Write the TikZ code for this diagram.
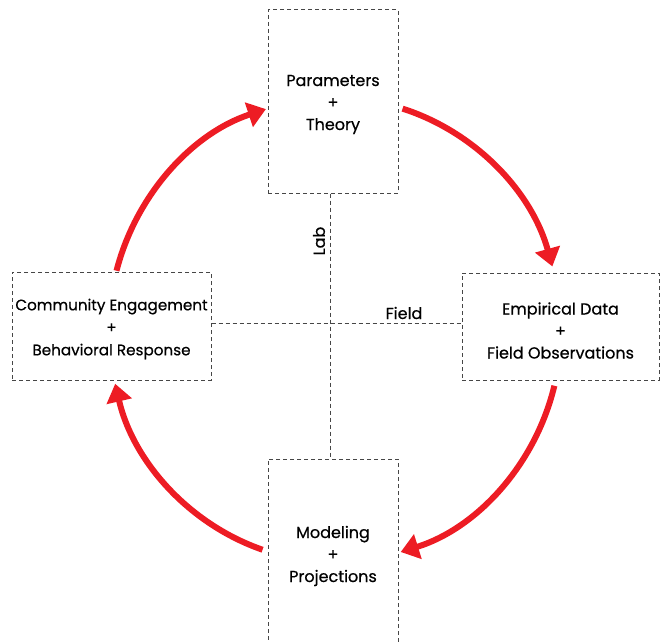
\documentclass[tikz,border=0pt]{standalone}
\usepackage{fontspec}
\setmainfont{Poppins}[FakeBold=0.6]
\usetikzlibrary{arrows.meta}
\definecolor{arrowred}{RGB}{237,28,36}
\definecolor{dashgray}{RGB}{70,70,70}
\tikzset{
  box/.style={draw=dashgray, line width=1pt, dash pattern=on 4pt off 3pt, inner sep=0pt},
  txt/.style={align=center, inner sep=0pt, font=\fontsize{16}{22}\selectfont},
  sep/.style={draw=dashgray, line width=1pt, dash pattern=on 4pt off 3pt},
  lbl/.style={font=\fontsize{16}{18}\selectfont, inner sep=0pt},
  cyc/.style={draw=arrowred, line width=6pt, -{Triangle[length=18pt,width=25pt]}}
}
\begin{document}
\begin{tikzpicture}[x=1pt,y=1pt]
\useasboundingbox (0,0) rectangle (660,641);
\node[box, minimum width=130pt, minimum height=183pt] (P) at (333,539.5) {};
\node[box, minimum width=197pt, minimum height=107pt] (E) at (560.5,314.5) {};
\node[box, minimum width=199pt, minimum height=108pt] (C) at (111.5,315) {};
\node[box, minimum width=130pt, minimum height=186pt] (M) at (333,89) {};
\node[txt] (Pt) at ([yshift=-3pt]P.center) {Parameters\\+\\Theory};
\node[txt] (Et) at ([yshift=-4pt]E.center) {Empirical Data\\+\\Field Observations};
\node[txt, font=\fontsize{15.2}{22.5}\selectfont] (Ct) at ([yshift=-3pt]C.center) {Community Engagement\\+\\Behavioral Response};
\node[txt] (Mt) at ([yshift=-4pt]M.center) {Modeling\\+\\Projections};
\coordinate (X) at (330,318);
\coordinate (O) at (335,311);
\draw[sep] (X |- P.south) -- (X |- M.north);
\draw[sep] (C.east |- X) -- (E.west |- X);
\node[lbl, rotate=90] (lab) at (319,400) {Lab};
\node[lbl] (field) at (404,328) {Field};
\draw[cyc] ([shift={(72.6:226pt and 232pt)}]O) arc[start angle=72.6, end angle=15.9, x radius=226pt, y radius=232pt];
\draw[cyc] ([shift={(-13.9:226pt and 232pt)}]O) arc[start angle=-13.9, end angle=-73.1, x radius=226pt, y radius=232pt];
\draw[cyc] ([shift={(251.3:226pt and 232pt)}]O) arc[start angle=251.3, end angle=193.4, x radius=226pt, y radius=232pt];
\draw[cyc] ([shift={(165.2:226pt and 232pt)}]O) arc[start angle=165.2, end angle=107.8, x radius=226pt, y radius=232pt];
\end{tikzpicture}
\end{document}
